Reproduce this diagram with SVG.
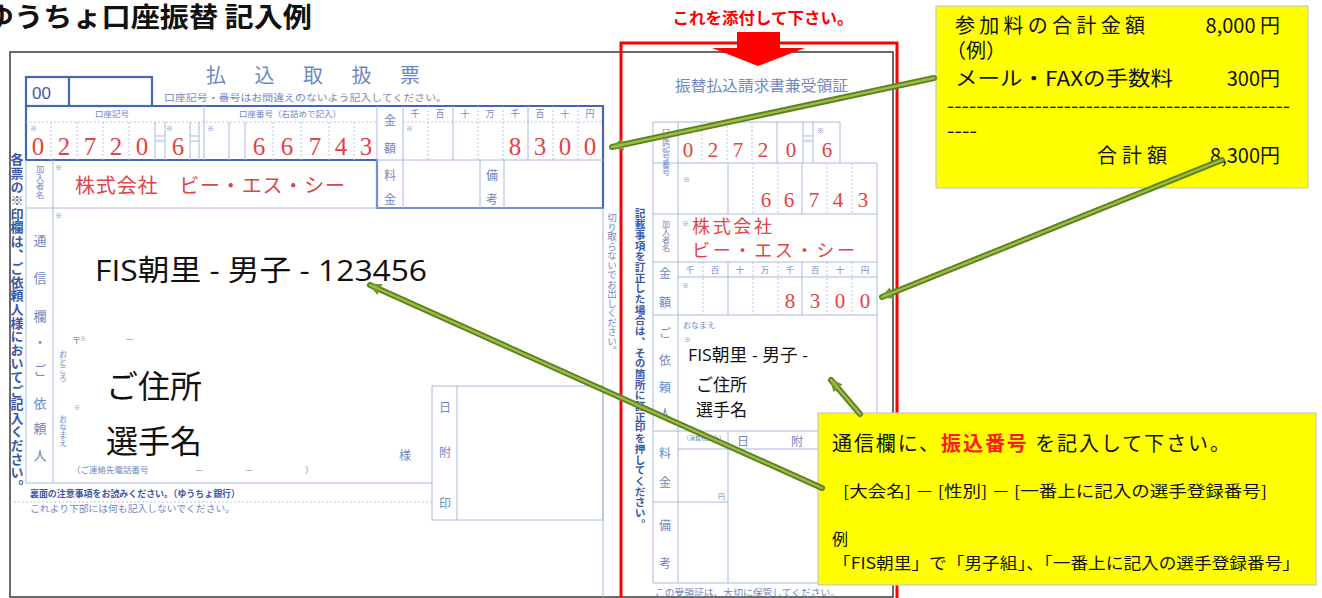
<svg xmlns="http://www.w3.org/2000/svg" width="1322" height="598" viewBox="0 0 1322 598">
<defs>
<style>
.thick{fill:none;stroke:#4466b4;stroke-width:2.2}
.thin{fill:none;stroke:#a9b8de;stroke-width:1}
.dot{fill:none;stroke:#b7c4e4;stroke-width:1;stroke-dasharray:2 2}
.lbl{font-family:"Noto Sans CJK JP",sans-serif;fill:#7088c2}
.lblb{font-family:"Noto Sans CJK JP",sans-serif;fill:#3a58a8;font-weight:bold}
.red{font-family:"Liberation Serif","Noto Sans CJK JP",serif;fill:#e04444;text-anchor:middle}
.redj{font-family:"Noto Sans CJK JP",sans-serif;fill:#e04444}
.ann{font-family:"Open Sans","Noto Sans CJK JP",sans-serif;fill:#111}
.note{font-family:"Noto Sans CJK JP",sans-serif;fill:#111}
.vt{writing-mode:vertical-rl}
.mid{text-anchor:middle}
.ga{stroke:#5f7f1f;stroke-width:6;fill:none;stroke-linecap:round}
.gb{stroke:#97bf46;stroke-width:2.4;fill:none;stroke-linecap:round}
.ybox{fill:#ffff00;stroke:#c8c8c8;stroke-width:1.2}
</style>
<marker id="ah" markerUnits="userSpaceOnUse" markerWidth="14" markerHeight="12" refX="11" refY="6" orient="auto">
<path d="M0,0 L13,6 L0,12 Z" fill="#6f9428"/>
</marker>
</defs>
<rect width="1322" height="598" fill="#fff"/>

<g id="title">
<text x="-15" y="27" font-family="Noto Sans CJK JP, sans-serif" font-weight="bold" font-size="27" textLength="327" lengthAdjust="spacingAndGlyphs" fill="#111">ゆうちょ口座振替 記入例</text>
</g>

<g id="outer-frame">
<rect x="10" y="52" width="883" height="545" fill="#fff" stroke="#3a3a3a" stroke-width="1.5"/>
</g>

<g id="left-form">
<rect x="26" y="77" width="126" height="29" class="thick"/>
<line x1="69" y1="77" x2="69" y2="106" class="thick"/>
<text x="32" y="99" font-family="Liberation Sans, sans-serif" font-size="17" fill="#3d5aa6">00</text>
<text x="206" y="83" class="lbl" font-size="20" textLength="214" lengthAdjust="spacing" fill="#4a66aa">払込取扱票</text>
<text x="164" y="101" class="lbl" font-size="9" textLength="283" lengthAdjust="spacingAndGlyphs">口座記号・番号はお間違えのないよう記入してください。</text>
<path d="M26,106 H603 V208 H377 V160 H26 Z" class="thick"/>
<line x1="26" y1="122" x2="377" y2="122" class="dot"/>
<line x1="403" y1="122" x2="603" y2="122" class="dot"/>
<text x="112" y="117" class="lbl mid" font-size="8.5">口座記号</text>
<text x="290" y="117" class="lbl mid" font-size="8.5">口座番号（右詰めで記入）</text>
<g class="lbl mid" font-size="9">
<text x="415" y="117">千</text><text x="440" y="117">百</text><text x="465" y="117">十</text><text x="490" y="117">万</text>
<text x="515" y="117">千</text><text x="540" y="117">百</text><text x="565" y="117">十</text><text x="590" y="117">円</text>
</g>
<g class="dot">
<line x1="51" y1="122" x2="51" y2="160"/><line x1="77" y1="122" x2="77" y2="160"/>
<line x1="103" y1="122" x2="103" y2="160"/><line x1="129" y1="122" x2="129" y2="160"/>
<line x1="273" y1="122" x2="273" y2="160"/><line x1="301" y1="122" x2="301" y2="160"/>
<line x1="329" y1="122" x2="329" y2="160"/><line x1="354" y1="122" x2="354" y2="160"/>
<line x1="428" y1="106" x2="428" y2="160"/><line x1="478" y1="106" x2="478" y2="160"/>
<line x1="503" y1="106" x2="503" y2="160"/><line x1="553" y1="106" x2="553" y2="160"/>
<line x1="578" y1="106" x2="578" y2="160"/>
</g>
<g class="thin">
<line x1="155" y1="122" x2="155" y2="160"/><line x1="165" y1="122" x2="165" y2="160"/>
<line x1="190" y1="122" x2="190" y2="160"/><line x1="199" y1="122" x2="199" y2="160"/>
<line x1="155" y1="136" x2="165" y2="136"/><line x1="155" y1="141" x2="165" y2="141"/>
<line x1="190" y1="136" x2="199" y2="136"/><line x1="190" y1="141" x2="199" y2="141"/>
<line x1="204" y1="106" x2="204" y2="160"/><line x1="229" y1="122" x2="229" y2="160"/>
<line x1="245" y1="122" x2="245" y2="160"/>
<line x1="377" y1="106" x2="377" y2="208"/><line x1="403" y1="106" x2="403" y2="208"/>
<line x1="453" y1="106" x2="453" y2="160"/><line x1="528" y1="106" x2="528" y2="160"/>
<line x1="377" y1="160" x2="603" y2="160"/>
<line x1="480" y1="160" x2="480" y2="208"/><line x1="504" y1="160" x2="504" y2="208"/>
</g>
<g class="lbl" font-size="7"><text x="30" y="131">※</text><text x="166" y="131">※</text><text x="207" y="131">※</text><text x="406" y="131">※</text><text x="55" y="170">※</text><text x="55" y="218">※</text></g>
<g class="red" font-size="25">
<text x="38" y="155">0</text><text x="64" y="155">2</text><text x="90" y="155">7</text><text x="116" y="155">2</text><text x="142" y="155">0</text>
<text x="178" y="155">6</text>
<text x="259" y="155">6</text><text x="287" y="155">6</text><text x="315" y="155">7</text><text x="341" y="155">4</text><text x="366" y="155">3</text>
<text x="515" y="155">8</text><text x="540" y="155">3</text><text x="565" y="155">0</text><text x="590" y="155">0</text>
</g>
<g class="lbl mid" font-size="12">
<text x="390" y="125">金</text><text x="390" y="153">額</text>
<text x="390" y="180">料</text><text x="390" y="204">金</text>
<text x="492" y="180">備</text><text x="492" y="204">考</text>
</g>
<g class="thin">
<line x1="26" y1="160" x2="26" y2="483"/>
<line x1="53" y1="160" x2="53" y2="483"/>
<line x1="26" y1="208" x2="603" y2="208"/>
<line x1="26" y1="483" x2="432" y2="483"/>
<line x1="603" y1="208" x2="603" y2="597"/>
<rect x="432" y="386" width="171" height="134"/>
<line x1="457" y1="386" x2="457" y2="520"/>
</g>
<line x1="10" y1="502" x2="432" y2="502" class="dot"/>
<text x="40" y="165" class="lbl vt" font-size="8.5">加入者名</text>
<text x="75" y="193" class="redj" font-size="20" textLength="270" lengthAdjust="spacing">株式会社　ビー・エス・シー</text>
<text x="17" y="153" class="lblb vt" font-size="13" letter-spacing="0.6">各票の※印欄は、ご依頼人様においてご記入ください。</text>
<g class="lbl mid" font-size="13">
<text x="40" y="245">通</text><text x="40" y="283">信</text><text x="40" y="321">欄</text><text x="40" y="347">・</text>
<text x="40" y="375">ご</text><text x="40" y="408">依</text><text x="40" y="433">頼</text><text x="40" y="460">人</text>
</g>
<text x="72" y="344" class="lbl" font-size="9">〒</text>
<text x="80" y="341" class="lbl" font-size="6">※</text>
<text x="125" y="343" class="lbl" font-size="9">－</text>
<text x="63" y="350" class="lbl vt" font-size="8">おところ</text>
<text x="63" y="415" class="lbl vt" font-size="8">おなまえ</text>
<text x="74" y="410" class="lbl" font-size="6">※</text>
<text x="72" y="473" class="lbl" font-size="8.5">（ご連絡先電話番号</text>
<text x="195" y="473" class="lbl" font-size="8.5">－</text>
<text x="245" y="473" class="lbl" font-size="8.5">－</text>
<text x="305" y="473" class="lbl" font-size="8.5">）</text>
<text x="405" y="460" class="lbl mid" font-size="12">様</text>
<g class="lbl mid" font-size="12"><text x="445" y="412">日</text><text x="445" y="457">附</text><text x="445" y="508">印</text></g>
<text x="30" y="497" class="lblb" font-size="9.5" textLength="210" lengthAdjust="spacingAndGlyphs">裏面の注意事項をお読みください。（ゆうちょ銀行）</text>
<text x="30" y="512" class="lbl" font-size="9.5" textLength="205" lengthAdjust="spacingAndGlyphs">これより下部には何も記入しないでください。</text>
<text x="612" y="213" class="lbl vt" font-size="9.5">切り取らないでお出しください。</text>
<text x="95" y="281" class="ann" font-size="29" textLength="332" lengthAdjust="spacingAndGlyphs">FIS朝里 - 男子 - 123456</text>
<text x="106" y="398" class="ann" font-size="32">ご住所</text>
<text x="106" y="453" class="ann" font-size="32">選手名</text>
</g>

<g id="receipt">
<text x="675" y="91" class="lbl" font-size="15" textLength="173" lengthAdjust="spacingAndGlyphs" fill="#4f69a8">振替払込請求書兼受領証</text>
<g class="thin">
<path d="M653,122 H840 V163"/>
<line x1="653" y1="122" x2="653" y2="583"/>
<line x1="678" y1="122" x2="678" y2="583"/>
<line x1="653" y1="163" x2="877" y2="163"/>
<line x1="877" y1="163" x2="877" y2="583"/>
<line x1="653" y1="214" x2="877" y2="214"/>
<line x1="653" y1="262" x2="877" y2="262"/>
<line x1="678" y1="277" x2="877" y2="277"/>
<line x1="653" y1="315" x2="877" y2="315"/>
<line x1="653" y1="431" x2="877" y2="431"/>
<line x1="678" y1="449" x2="877" y2="449"/>
<line x1="653" y1="502" x2="728" y2="502"/>
<line x1="653" y1="583" x2="877" y2="583"/>
<line x1="728" y1="431" x2="728" y2="583"/>
<line x1="777" y1="122" x2="777" y2="163"/>
<line x1="803" y1="122" x2="803" y2="163"/><line x1="813" y1="122" x2="813" y2="163"/>
<line x1="803" y1="136" x2="813" y2="136"/><line x1="803" y1="141" x2="813" y2="141"/>
<line x1="728" y1="163" x2="728" y2="214"/><line x1="802" y1="163" x2="802" y2="214"/>
<line x1="728" y1="262" x2="728" y2="315"/><line x1="802" y1="262" x2="802" y2="315"/>
</g>
<g class="dot">
<line x1="702" y1="122" x2="702" y2="163"/><line x1="727" y1="122" x2="727" y2="163"/><line x1="752" y1="122" x2="752" y2="163"/>
<line x1="753" y1="163" x2="753" y2="214"/><line x1="778" y1="163" x2="778" y2="214"/>
<line x1="827" y1="163" x2="827" y2="214"/><line x1="852" y1="163" x2="852" y2="214"/>
<line x1="703" y1="262" x2="703" y2="315"/><line x1="753" y1="262" x2="753" y2="315"/><line x1="778" y1="262" x2="778" y2="315"/>
<line x1="827" y1="262" x2="827" y2="315"/><line x1="852" y1="262" x2="852" y2="315"/>
</g>
<text x="666" y="128" class="lbl vt" font-size="8">口座記号番号</text>
<text x="666" y="220" class="lbl vt" font-size="8">加入者名</text>
<g class="lbl" font-size="7"><text x="817" y="133">※</text><text x="683" y="182">※</text><text x="682" y="226">※</text><text x="682" y="288">※</text><text x="684" y="342">※</text></g>
<g class="red" font-size="21">
<text x="688" y="157">0</text><text x="713" y="157">2</text><text x="738" y="157">7</text><text x="763" y="157">2</text><text x="791" y="157">0</text><text x="827" y="157">6</text>
<text x="766" y="207">6</text><text x="789" y="207">6</text><text x="814" y="207">7</text><text x="838" y="207">4</text><text x="863" y="207">3</text>
<text x="790" y="308">8</text><text x="815" y="308">3</text><text x="840" y="308">0</text><text x="865" y="308">0</text>
</g>
<text x="692" y="233" class="redj" font-size="18" textLength="80" lengthAdjust="spacing">株式会社</text>
<text x="692" y="257" class="redj" font-size="18" textLength="163" lengthAdjust="spacing">ビー・エス・シー</text>
<g class="lbl mid" font-size="8.5">
<text x="690" y="273">千</text><text x="715" y="273">百</text><text x="740" y="273">十</text><text x="765" y="273">万</text>
<text x="790" y="273">千</text><text x="815" y="273">百</text><text x="840" y="273">十</text><text x="865" y="273">円</text>
</g>
<g class="lbl mid" font-size="12">
<text x="665" y="278">金</text><text x="665" y="307">額</text>
<text x="665" y="338">ご</text><text x="665" y="365">依</text><text x="665" y="392">頼</text><text x="665" y="418">人</text>
<text x="665" y="458">料</text><text x="665" y="487">金</text>
<text x="665" y="530">備</text><text x="665" y="568">考</text>
<text x="743" y="446">日</text><text x="797" y="446">附</text>
</g>
<text x="683" y="328" class="lbl" font-size="8">おなまえ</text>
<text x="683" y="440" class="lbl" font-size="6">（消費税込み）</text>
<text x="718" y="499" class="lbl" font-size="7">円</text>
<text x="655" y="596" class="lbl" font-size="9.5" textLength="185" lengthAdjust="spacingAndGlyphs">この受領証は、大切に保管してください。</text>
<text x="640" y="208" class="lblb vt" font-size="10.7">記載事項を訂正した場合は、その箇所に訂正印を押してください。</text>
<text x="688" y="361" class="ann" font-size="17" textLength="120" lengthAdjust="spacingAndGlyphs">FIS朝里 - 男子 -</text>
<text x="696" y="391" class="ann" font-size="17">ご住所</text>
<text x="696" y="416" class="ann" font-size="17">選手名</text>
</g>

<g id="attach-marker">
<rect x="621" y="43" width="276" height="570" fill="none" stroke="#ff0000" stroke-width="3"/>
<text x="763" y="24" class="mid" font-family="Noto Sans CJK JP, sans-serif" font-weight="bold" font-size="16" fill="#ff0000" textLength="181" lengthAdjust="spacingAndGlyphs">これを添付して下さい。</text>
<path d="M737,32 H780 V48 H805 L758,66 L712,48 H737 Z" fill="#ff0000"/>
</g>

<g id="note-fees">
<rect x="936" y="6" width="372" height="182" class="ybox"/>
<g class="note" font-size="20">
<text x="955" y="33" textLength="190" lengthAdjust="spacing">参加料の合計金額</text>
<text x="1280" y="33" text-anchor="end">8,000 円</text>
<text x="946" y="58">（例）</text>
<text x="955" y="86" textLength="218" lengthAdjust="spacingAndGlyphs">メール・FAXの手数料</text>
<text x="1280" y="86" text-anchor="end">300円</text>
<text x="947" y="113" textLength="343" lengthAdjust="spacingAndGlyphs">-----------------------------------------------</text>
<text x="947" y="138" textLength="30" lengthAdjust="spacingAndGlyphs">----</text>
<text x="1097" y="163" textLength="70" lengthAdjust="spacing">合計額</text>
<text x="1280" y="163" text-anchor="end">8,300円</text>
</g>
</g>

<g id="note-transfer">
<rect x="818" y="413" width="498" height="172" class="ybox"/>
<text x="832" y="451" class="note" font-size="20" textLength="398" lengthAdjust="spacing">通信欄に、<tspan fill="#ff1a1a" font-weight="bold">振込番号</tspan> を記入して下さい。</text>
<text x="843" y="497" class="note" font-size="15.5" textLength="424" lengthAdjust="spacingAndGlyphs">[大会名] － [性別] － [一番上に記入の選手登録番号]</text>
<text x="832" y="545" class="note" font-size="16">例</text>
<text x="833" y="569" class="note" font-size="16" textLength="467" lengthAdjust="spacingAndGlyphs">「FIS朝里」で「男子組」、「一番上に記入の選手登録番号」</text>
</g>

<g id="connectors">
<line x1="934" y1="78" x2="612" y2="147" class="ga" marker-end="url(#ah)"/>
<line x1="934" y1="78" x2="612" y2="147" class="gb"/>
<line x1="1222" y1="160" x2="882" y2="297" class="ga" marker-end="url(#ah)"/>
<line x1="1222" y1="160" x2="882" y2="297" class="gb"/>
<line x1="860" y1="414" x2="831" y2="380" class="ga" marker-end="url(#ah)"/>
<line x1="860" y1="414" x2="831" y2="380" class="gb"/>
<line x1="822" y1="488" x2="370" y2="285" class="ga" marker-end="url(#ah)"/>
<line x1="822" y1="488" x2="370" y2="285" class="gb"/>
</g>
</svg>
